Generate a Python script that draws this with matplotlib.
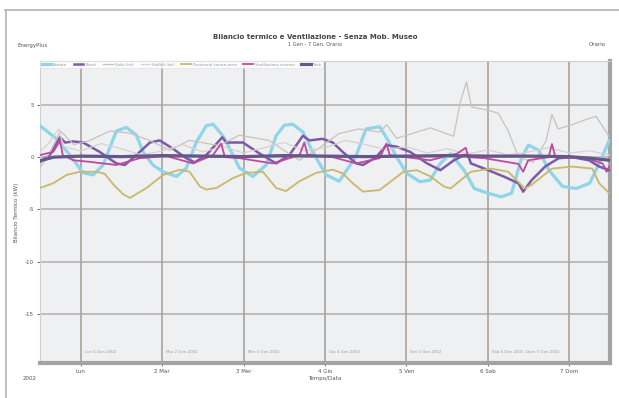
import matplotlib
matplotlib.use("Agg")
import matplotlib.pyplot as plt
from matplotlib.lines import Line2D

# ---- data (hours from 1 Jan 00:00, heat balance in kW) ----
vetrate_h = [0, 4.9, 8.8, 12.7, 15.7, 18.6, 22.5, 25.5, 28.4, 30.4, 33.3, 36.3, 40.2, 43.1,
             46.1, 49, 51, 53.9, 56.4, 58.8, 62.7, 66.7, 69.6, 72, 74.5, 77.5, 80.4, 84.3,
             88.2, 93, 96.1, 100.1, 102.6, 105.1, 108.1, 112, 115, 118, 121, 125, 128, 132,
             136, 139, 142, 144, 147, 150, 154, 158, 162, 164.8, 167.8]
vetrate_v = [3.0, 1.75, 0.2, -1.5, -1.7, -0.75, 2.5, 2.85, 2.1, 0.5, -0.75, -1.4, -1.85, -1.05,
             1.45, 3.0, 3.15, 2.05, 0.5, -1.05, -1.85, -0.75, 2.05, 3.05, 3.15, 2.4, 0.5, -1.7,
             -2.3, 0.0, 2.7, 2.9, 1.6, 0.0, -1.55, -2.35, -2.2, -0.6, 0.35, -1.25, -3.0, -3.45,
             -3.8, -3.45, 0.0, 1.15, 0.65, -1.25, -2.8, -3.0, -2.5, -0.6, 1.6]

pareti_h = [0, 2.9, 5.9, 7.4, 9.8, 12.7, 17.6, 22.5, 25, 28.4, 32.4, 35.3, 39.2, 43.1, 45.6,
            49, 52.9, 53.7, 54.9, 59.8, 64.7, 69.6, 73.5, 77.5, 79.4, 83.3, 86.3, 89.2, 93.2,
            95.2, 99.1, 102.1, 105.1, 109.1, 114.1, 118, 122, 126, 127, 131, 137, 141, 142.4,
            144.9, 148.9, 152.9, 156.8, 161.8, 164.8, 167.8]
pareti_v = [-0.45, 0.2, 1.9, 1.4, 1.5, 1.4, 0.5, -0.6, -0.75, 0.2, 1.4, 1.6, 0.8, -0.1, -0.5,
            0.2, 1.6, 1.9, 1.4, 1.4, 0.35, -0.6, 0.2, 2.05, 1.6, 1.75, 1.4, 0.5, -0.6,
            -0.75, 0.0, 1.15, 1.0, 0.5, -0.6, -1.25, -0.3, 0.35, -0.6, -1.1, -1.9, -2.5, -3.3,
            -2.2, -0.9, -0.1, 0.0, -0.3, -0.9, -1.25]

solai_h = [0, 3, 6, 10, 14.7, 20.6, 26.4, 32.3, 38.2, 44, 52.9, 58.7, 67.5, 76.4, 82, 88.1,
           94, 100, 102.2, 105.1, 111, 115.1, 121.9, 123.9, 125.7, 127.2, 131.9, 135.1, 138,
           141, 145.4, 149.2, 150.9, 152.7, 156.8, 160.9, 163.9, 167.7]
solai_v = [-1.0, 0.5, 2.5, 1.2, 1.6, 2.5, 2.3, 1.6, 0.65, 1.6, 1.1, 2.1, 1.6, -0.3, 0.8, 2.25,
           2.7, 2.4, 3.1, 1.8, 2.4, 2.8, 2.0, 5.3, 7.2, 4.8, 4.5, 4.2, 2.5,
           0.0, -0.5, 1.6, 4.1, 2.7, 3.1, 3.6, 3.9, 2.0]

soffitti_h = [0, 3, 5.5, 7, 12, 18, 24, 30, 36, 42, 48, 54, 60, 66, 72, 78, 84, 90, 96, 102,
              108, 114, 120, 126, 132, 138, 144, 150, 156, 162, 168]
soffitti_v = [0.5, 1.5, 2.7, 1.0, 0.6, 1.3, 0.8, 0.2, 0.6, 1.2, 0.5, 1.0, 0.4, 0.9, 1.4, 0.6,
              0.9, 1.6, 1.2, 0.7, 1.0, 0.4, 0.8, 0.3, 0.7, 0.2, 0.5, 0.9, 0.4, 0.6, 0.2]

pavimenti_h = [0, 3.9, 7.8, 11.8, 16.7, 19.1, 21.6, 24.5, 26.5, 31.4, 36.3, 41.2, 44.1, 47.1,
               49, 52, 56.9, 60.8, 65.7, 69.6, 72.5, 76.5, 81.4, 86.3, 89.2, 92.2, 95.2, 100.1,
               107.1, 111.1, 115.1, 119, 121, 127, 133, 138, 142.9, 144.9, 150.9, 156.8, 162.8,
               164.8, 167.8]
pavimenti_v = [-2.95, -2.5, -1.7, -1.4, -1.4, -1.6, -2.6, -3.55, -3.9, -2.95, -1.7, -1.2, -1.4,
               -2.8, -3.1, -2.95, -2.0, -1.5, -1.4, -2.95, -3.25, -2.3, -1.5, -1.2, -1.55, -2.5,
               -3.3, -3.15, -1.4, -1.25, -1.85, -2.8, -3.0, -1.4, -1.1, -1.4, -3.0, -2.65, -1.1,
               -0.9, -1.1, -2.5, -3.45]

ventilazione_h = [0, 3.9, 5.4, 5.9, 6.7, 9.8, 14.7, 22.5, 29.4, 37.3, 45.1, 51, 53.4, 54.5, 58.8,
                  68.6, 76.5, 77.9, 78.9, 86.3, 93.2, 100.1, 102.1, 103.1, 115, 123, 125.5, 126.2,
                  131, 141, 142.4, 143.9, 149.9, 150.9, 151.9, 160.8, 165.8, 167, 167.8]
ventilazione_v = [0.2, 0.5, 1.3, 1.6, 0.2, -0.3, -0.45, -0.75, -0.1, 0.1, -0.6, 0.2, 1.3, 0.0,
                  -0.1, -0.6, 0.2, 1.4, 0.2, 0.0, -0.6, -0.1, 1.3, 0.2, -0.3, 0.35, 0.9, 0.0,
                  -0.1, -0.65, -1.4, -0.3, 0.0, 1.25, 0.0, -0.1, -0.6, -1.4, -0.9]

tetti_h = [0, 4, 12, 24, 36, 48, 60, 72, 84, 96, 108, 120, 132, 144, 156, 162, 168]
tetti_v = [-0.35, 0.0, 0.1, 0.05, 0.15, 0.1, 0.05, 0.15, 0.1, 0.05, 0.1, 0.15, 0.1, 0.1,
           0.05, -0.1, -0.3]

series = [
    ("Vetrate", vetrate_h, vetrate_v, "#8fd5ea", 2.3),
    ("Pareti", pareti_h, pareti_v, "#7d5aa8", 1.8),
    ("Solai (int)", solai_h, solai_v, "#c9c2bb", 0.9),
    ("Soffitti (int)", soffitti_h, soffitti_v, "#dccfd3", 0.9),
    ("Pavimenti contro terra", pavimenti_h, pavimenti_v, "#c9b86c", 1.3),
    ("Ventilazione esterna", ventilazione_h, ventilazione_v, "#c2489e", 1.3),
    ("Tetti", tetti_h, tetti_v, "#66578a", 2.3),
]

tick_hours = [12, 36, 60, 84, 108, 132, 156]
tick_labels = ["Lun", "2 Mar", "3 Mer", "4 Gio", "5 Ven", "6 Sab", "7 Dom"]
day_notes = ["Lun 1 Gen 2002", "Mar 2 Gen 2002", "Mer 3 Gen 2002", "Gio 4 Gen 2002",
             "Ven 5 Gen 2002", "Sab 6 Gen 2002  Dom 7 Gen 2002"]
y_ticks = [5, 0, -5, -10, -15]

# ---- figure ----
W, H = 619, 398
fig = plt.figure(figsize=(W / 100, H / 100), dpi=100)
fig.patch.set_facecolor("white")

# outer frame
fig.add_artist(Line2D([5 / W, 1], [1 - 10 / H, 1 - 10 / H], color="#b4b4b4", lw=1.2))
fig.add_artist(Line2D([6 / W, 6 / W], [0, 1 - 10 / H], color="#b4b4b4", lw=1.2))

ax = fig.add_axes([40 / W, 1 - 363 / H, 570 / W, 302 / H])
ax.set_facecolor("#eef0f2")
ax.set_xlim(0, 168)
ax.set_ylim(-19.7, 9.2)

for y in y_ticks:
    ax.axhline(y, color="#b3afad", lw=1.1, zorder=1)
for x in tick_hours:
    ax.axvline(x, color="#a6a2a0", lw=1.2, zorder=1)

for name, hh, vv, col, lw in series:
    ax.plot(hh, vv, color=col, lw=lw, label=name, zorder=3, solid_joinstyle="round")

for x, note in zip(tick_hours, day_notes):
    ax.text(x + 1.2, -18.6, note, fontsize=2.8, color="#9a9a9a", va="center", ha="left")

ax.set_xticks(tick_hours)
ax.set_xticklabels(tick_labels)
ax.set_yticks(y_ticks)
ax.set_yticklabels([str(v) for v in y_ticks])
ax.tick_params(axis="both", labelsize=4, colors="#555555", length=2, width=0.6, pad=2.5)

for side in ("top", "left"):
    ax.spines[side].set_color("#cfcfcf")
    ax.spines[side].set_linewidth(0.8)
for side in ("right", "bottom"):
    ax.spines[side].set_color("#a3a3a3")
    ax.spines[side].set_linewidth(3.0)

ax.set_ylabel("Bilancio Termico (kW)", fontsize=4, color="#555555", labelpad=4)
ax.set_xlabel("Tempo/Data", fontsize=4, color="#555555", labelpad=1)

leg = ax.legend(ncol=7, loc="upper left", bbox_to_anchor=(0, 1), fontsize=2.8,
                handlelength=2.4, handletextpad=0.6, columnspacing=1.7, frameon=True,
                fancybox=False, facecolor="white", edgecolor="#dddddd", borderaxespad=0,
                borderpad=0.4)
for t in leg.get_texts():
    t.set_color("#999999")
leg.get_frame().set_linewidth(0.5)

fig.text(315 / W, 1 - 37 / H, "Bilancio termico e Ventilazione - Senza Mob. Museo",
         fontsize=5, color="#444444", ha="center", va="center", fontweight="semibold")
fig.text(315 / W, 1 - 44 / H, "1 Gen - 7 Gen, Orario", fontsize=3.6, color="#555555",
         ha="center", va="center")
fig.text(18 / W, 1 - 45 / H, "EnergyPlus", fontsize=4, color="#555555", ha="left", va="center")
fig.text(589 / W, 1 - 45 / H, "Orario", fontsize=4, color="#555555", ha="left", va="center")
fig.text(37 / W, 1 - 378 / H, "2002", fontsize=4, color="#555555", ha="right", va="center")

fig.savefig("out.png", dpi=100, facecolor="white")
